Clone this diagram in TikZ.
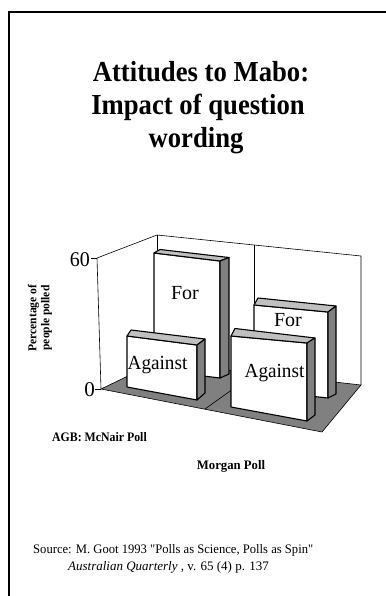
\documentclass[tikz,border=0pt]{standalone}
\usepackage{tikz}
\usepackage{graphicx}
\usepackage{fontspec}
\setmainfont{Liberation Serif}
\newfontfamily\srcfont{Liberation Serif}[Ligatures=TeXOff]
\definecolor{topgray}{HTML}{C0C0C0}
\definecolor{sidegray}{HTML}{808080}
\definecolor{floorgray}{HTML}{808080}
\newcommand{\hsq}[2]{\scalebox{#1}[1]{#2}}
\begin{document}
\begin{tikzpicture}[x=1pt,y=-1pt,
  wall/.style={line width=0.6pt},
  barface/.style={draw=black, line width=1.1pt, line join=round},
  frontf/.style={barface, fill=white},
  topf/.style={barface, fill=topgray},
  sidef/.style={barface, fill=sidegray},
  lbl/.style={inner sep=0pt, font=\fontsize{20}{24}\selectfont},
  ttl/.style={inner sep=0pt, anchor=base, font=\fontsize{29}{33}\selectfont\bfseries},
  axnum/.style={inner sep=0pt, anchor=east, font=\fontsize{21}{24}\selectfont},
  cat/.style={inner sep=0pt, font=\fontsize{13}{15}\selectfont\bfseries},
  src/.style={inner sep=0pt, anchor=base west, font=\fontsize{13}{15}\selectfont}
]
\useasboundingbox (0,0) rectangle (385,596);
% frame
\draw[line width=2pt] (9,596) -- (9,12) -- (386,12);

% title
\node[ttl] (t1) at (201,82) {\hsq{0.92}{Attitudes to Mabo:}};
\node[ttl] (t2) at (198,115) {\hsq{0.92}{Impact of question}};
\node[ttl] (t3) at (196,148) {\hsq{0.92}{wording}};

% wall corners
\coordinate (A) at (97,258);
\coordinate (B) at (157,235);
\coordinate (C) at (157,362);
\coordinate (D) at (101,389);
\coordinate (E) at (361,256);
\coordinate (F) at (361,385);
\coordinate (G) at (322,432);
\coordinate (Vt) at (254,245);
\coordinate (Vb) at (254,374);
\coordinate (Ff) at (205,409);

% walls
\draw[wall] (A) -- (B) -- (E) -- (F);
\draw[wall] (B) -- (C);
\draw[wall] (Vt) -- (Vb);
\draw[wall] (A) -- (D);
% floor
\filldraw[wall, fill=floorgray] (D) -- (G) -- (F) -- (C) -- cycle;
\draw[wall] (Ff) -- (Vb);

% ticks and axis numbers
\draw[wall] (91,258) -- (A);
\draw[wall] (95,389) -- (D);
\node[axnum] (n60) at (90,260) {\hsq{0.95}{60}};
\node[axnum] (n0) at (95,390) {0};

% For (left)
\filldraw[frontf] (154,253) -- (220,261) -- (220,378) -- (154,370) -- cycle;
\filldraw[topf] (154,253) -- (160,249.5) -- (229,257.5) -- (220,261) -- cycle;
\filldraw[sidef] (220,261) -- (229,257.5) -- (229,374) -- (220,378) -- cycle;
\node[lbl] (forL) at (185,293) {For};

% For (right)
\filldraw[frontf] (254,305) -- (328,312) -- (328,398) -- (254,390) -- cycle;
\filldraw[topf] (254,305) -- (258,298) -- (336,306) -- (328,312) -- cycle;
\filldraw[sidef] (328,312) -- (336,306) -- (336,394) -- (328,398) -- cycle;
\node[lbl] (forR) at (288,320) {For};

% Against (left)
\filldraw[frontf] (127,336) -- (197,345) -- (197,400) -- (127,387) -- cycle;
\filldraw[topf] (127,336) -- (131,330) -- (205,339) -- (197,345) -- cycle;
\filldraw[sidef] (197,345) -- (205,339) -- (205,393) -- (197,400) -- cycle;
\node[lbl] (agL) at (157.5,365) {\hsq{0.96}{Against}};

% Against (right)
\filldraw[frontf] (231,336) -- (307,343) -- (307,421) -- (231,407) -- cycle;
\filldraw[topf] (231,336) -- (235,328.5) -- (315,338) -- (307,343) -- cycle;
\filldraw[sidef] (307,343) -- (315,338) -- (315,415) -- (307,421) -- cycle;
\node[lbl] (agR) at (274.5,373) {\hsq{0.96}{Against}};

% y-axis label
\node[inner sep=0pt, rotate=90, align=center,
      font=\fontsize{12}{13}\selectfont\bfseries] (ylab) at (40,318)
  {\hsq{0.96}{Percentage of}\\\hsq{0.96}{people polled}};

% category labels
\node[cat] (agb) at (99.5,437) {\hsq{0.91}{AGB: McNair Poll}};
\node[cat] (morgan) at (231,466) {\hsq{0.98}{Morgan Poll}};

% source
\node[src] (s1) at (33,553) {\srcfont\hsq{0.97}{Source: M. Goot 1993 "Polls as Science, Polls as Spin"}};
\node[src] (s2) at (68,570) {\textit{Australian Quarterly} , v. 65 (4) p. 137};
\end{tikzpicture}
\end{document}
